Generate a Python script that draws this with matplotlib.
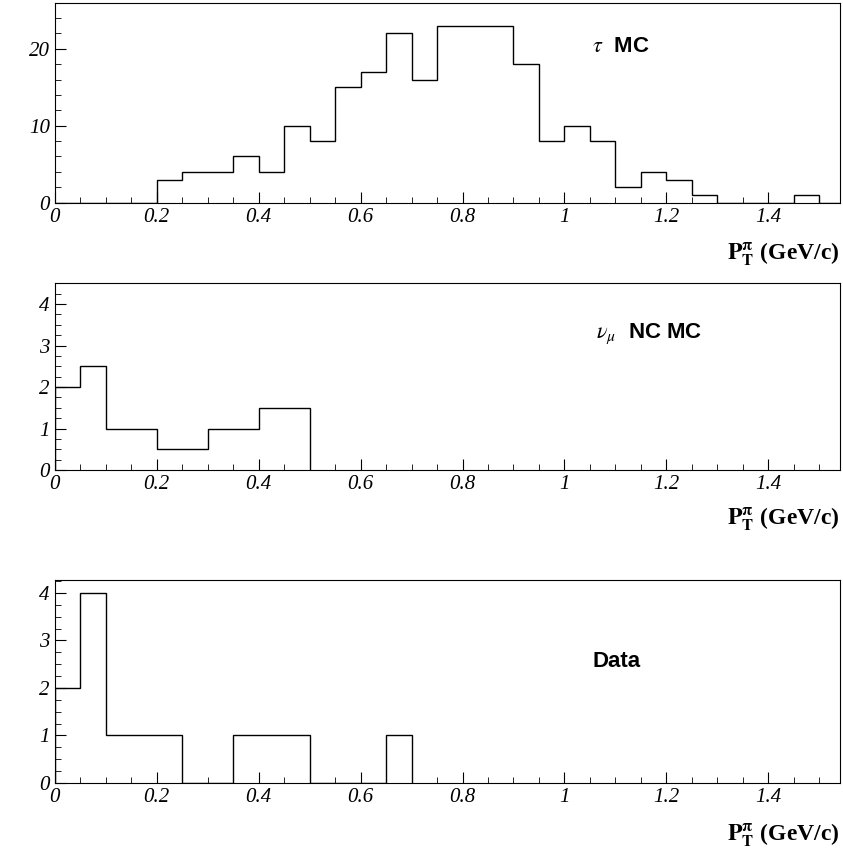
import matplotlib
matplotlib.use("Agg")
import matplotlib.pyplot as plt
import numpy as np
from matplotlib.ticker import MultipleLocator

plt.rcParams['mathtext.fontset'] = 'stix'

edges_tau = np.round(np.arange(0, 1.551, 0.05), 3)
tau_mc = [0,0,0,0,3,4,4,6,4,10,8,15,17,22,16,23,23,23,18,8,10,8,2,4,3,1,0,0,0,1,0]
edges_nc = [0,0.05,0.1,0.2,0.3,0.4,0.5]
nc_mc = [2,2.5,1,0.5,1,1.5]
edges_data = [0,0.05,0.1,0.25,0.35,0.5,0.65,0.7]
data = [2,4,1,0,1,0,1]

panels = [
    (edges_tau, tau_mc, r"$\tau$  MC", 26, 10, 2, [0.065, 0.766, 0.931, 0.231], 0.685, 0.78),
    (edges_nc, nc_mc, r"$\nu_\mu$  NC MC", 4.5, 1, 0.25, [0.065, 0.457, 0.931, 0.216], 0.69, 0.73),
    (edges_data, data, "Data", 4.27, 1, 0.25, [0.065, 0.096, 0.931, 0.234], 0.685, 0.6),
]

fig = plt.figure(figsize=(8.43, 8.66), dpi=100)
for edges, vals, label, ymax, ymaj, ymin, rect, lx, ly in panels:
    ax = fig.add_axes(rect)
    ax.stairs(vals, edges, color='black', linewidth=1)
    ax.set_xlim(0, 1.54)
    ax.set_ylim(0, ymax)
    ax.xaxis.set_minor_locator(MultipleLocator(0.05))
    ax.yaxis.set_major_locator(MultipleLocator(ymaj))
    ax.yaxis.set_minor_locator(MultipleLocator(ymin))
    ax.tick_params(which='both', direction='in', top=False, right=False)
    ax.tick_params(which='major', length=8, labelsize=15)
    ax.tick_params(which='minor', length=4)
    ax.set_xticks([0,0.2,0.4,0.6,0.8,1,1.2,1.4])
    ax.set_xticklabels(['0','0.2','0.4','0.6','0.8','1','1.2','1.4'])
    for t in ax.get_xticklabels() + ax.get_yticklabels():
        t.set_fontfamily('Liberation Serif'); t.set_fontstyle('italic')
    ax.text(lx, ly, label, transform=ax.transAxes, fontsize=16,
            fontfamily='Liberation Sans', fontweight='bold', ha='left', va='center')
    ax.text(1.0, -0.19, r"$\mathbf{P_T^{\pi}}$ (GeV/c)", transform=ax.transAxes,
            fontsize=17, fontfamily='Liberation Serif', fontweight='bold',
            ha='right', va='top')
fig.savefig("out.png", dpi=100)
